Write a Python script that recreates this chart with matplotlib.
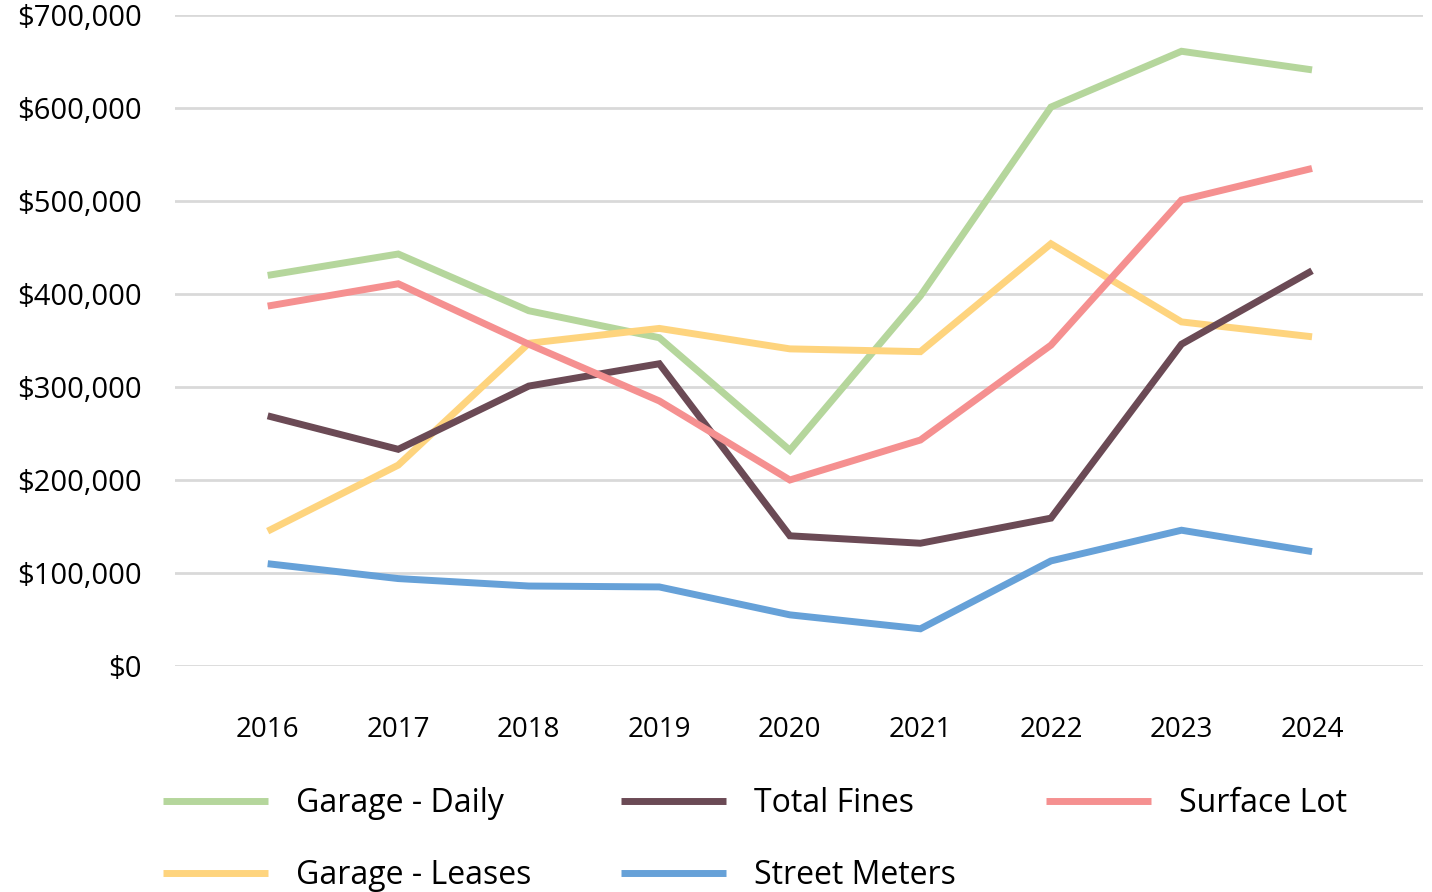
import matplotlib.pyplot as plt
from matplotlib.ticker import FuncFormatter

years = [2016, 2017, 2018, 2019, 2020, 2021, 2022, 2023, 2024]

# yearly revenue by source, in dollars
garage_daily = [420000, 443000, 382000, 353000, 232000, 398000, 601000, 661000, 641000]
garage_leases = [145000, 216000, 347000, 363000, 341000, 338000, 454000, 370000, 354000]
total_fines = [269000, 233000, 301000, 325000, 140000, 132000, 159000, 346000, 425000]
street_meters = [110000, 94000, 86000, 85000, 55000, 40000, 113000, 146000, 123000]
surface_lot = [387000, 411000, 346000, 285000, 200000, 243000, 345000, 501000, 535000]

series = [
    ("Garage - Daily", garage_daily, "#b5d69c"),
    ("Garage - Leases", garage_leases, "#fed47e"),
    ("Total Fines", total_fines, "#6b4a55"),
    ("Street Meters", street_meters, "#66a1d8"),
    ("Surface Lot", surface_lot, "#f59090"),
]

plt.rcParams['font.family'] = ['Open Sans', 'DejaVu Sans']

fig = plt.figure(figsize=(14.32, 8.92), dpi=100)
ax = fig.add_axes([175 / 1432, 1 - 666 / 892, 1248 / 1432, 651 / 892])

for name, vals, col in series:
    ax.plot(years, vals, color=col, lw=5, label=name, solid_joinstyle='miter',
            solid_capstyle='butt', zorder=3)

ax.set_ylim(0, 700000)
ax.set_xlim(2015.29, 2024.85)
ax.set_yticks(range(0, 700001, 100000))
ax.set_xticks(years)
ax.yaxis.set_major_formatter(FuncFormatter(lambda v, p: f"${v:,.0f}"))
ax.grid(axis='y', color='#d9d9d9', lw=2, zorder=0)
ax.tick_params(axis='y', length=0, pad=24, labelsize=21)
ax.tick_params(axis='x', length=0, pad=36, labelsize=20)
for s in ax.spines.values():
    s.set_visible(False)

fig.legend(loc='upper left', bbox_to_anchor=(163 / 1432, 1 - 787 / 892),
           ncol=3, frameon=False, fontsize=23, handlelength=3.3,
           handletextpad=0.87, columnspacing=2.8, labelspacing=1.22,
           borderpad=0, borderaxespad=0)

fig.savefig("out.png", dpi=100)
